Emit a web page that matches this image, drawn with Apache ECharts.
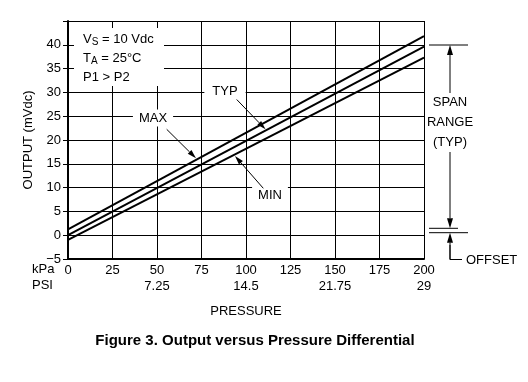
<!DOCTYPE html>
<html><head><meta charset="utf-8">
<script src="https://cdn.jsdelivr.net/npm/echarts@6/dist/echarts.min.js"></script>
<style>html,body{margin:0;padding:0;background:#fff}#c{width:528px;height:382px}</style>
</head><body><div id="c"></div>
<script>
// ---- data ----
const kpaEnds = [0, 200];
const maxOut = [1.2, 41.8];
const typOut = [0, 39.6];
const minOut = [-1.0, 37.3];
const kpaTicks = [0, 25, 50, 75, 100, 125, 150, 175, 200];
const psiTicks = ['', '', '7.25', '', '14.5', '', '21.75', '', '29'];
const yTicks = [-5, 0, 5, 10, 15, 20, 25, 30, 35, 40];

const FN = '"Liberation Sans Narrow", "Liberation Sans", Arial, sans-serif';
const FB = '"Liberation Sans", Arial, sans-serif';
const FS = 13;

function pairs(xs, ys){ return xs.map((x,i)=>[x, ys[i]]); }

function arrow(x1,y1,x2,y2,len,half){
  const dx=x2-x1, dy=y2-y1, L=Math.hypot(dx,dy), ux=dx/L, uy=dy/L;
  const bx=x2-ux*len, by=y2-uy*len;
  return [
    {type:'line', shape:{x1:x1,y1:y1,x2:bx,y2:by}, style:{stroke:'#000', lineWidth:1}, z:100},
    {type:'polygon', shape:{points:[[x2,y2],[bx-uy*half,by+ux*half],[bx+uy*half,by-ux*half]]}, style:{fill:'#000'}, z:100}
  ];
}
function label(txt, x, y, extra){
  return {type:'text', x:x, y:y, z:100, style:Object.assign({text:txt, font:FS+'px '+FN, fill:'#000', align:'center', verticalAlign:'middle', backgroundColor:'#fff', padding:[2,4]}, extra||{})};
}
function txt(t, x, y, align){
  return {type:'text', x:x, y:y, z:100, style:{text:t, font:FS+'px '+FN, fill:'#000', align:align||'left', verticalAlign:'middle'}};
}

const chart = echarts.init(document.getElementById('c'), null, {renderer:'canvas'});
const lineStyle = {color:'#000', width:2};
const mkSeries = (name, ys) => ({name, type:'line', data:pairs(kpaEnds, ys), symbol:'none', lineStyle, silent:true, z:3});

let graphics = [];
// condition box
graphics.push({type:'rect', shape:{x:74, y:28, width:90, height:58}, style:{fill:'#fff'}, z:90});
const rich = {a:{font:FS+'px '+FN, fill:'#000'}, s:{font:'10px '+FN, fill:'#000', padding:[6,0,0,0]}};
graphics.push({type:'text', x:83, y:39, z:100, style:{text:'{a|V}{s|S}{a| = 10 Vdc}', verticalAlign:'middle', rich:rich}});
graphics.push({type:'text', x:83, y:58, z:100, style:{text:'{a|T}{s|A}{a| = 25°C}', verticalAlign:'middle', rich:rich}});
graphics.push(txt('P1 > P2', 83, 77));
// line labels
graphics.push(label('TYP', 225, 91, {padding:[2,8]}));
graphics.push(label('MAX', 153, 118, {padding:[2,6]}));
graphics.push(label('MIN', 270, 195, {padding:[2,6]}));
graphics = graphics.concat(arrow(236.7,99.5,265.5,129.3,9,2.6));
graphics = graphics.concat(arrow(166.7,129.3,196,158.3,9,2.6));
graphics = graphics.concat(arrow(263.3,188.3,235,156,9,2.6));
// span / offset annotation
graphics.push({type:'line', shape:{x1:429,y1:45,x2:468,y2:45}, style:{stroke:'#000',lineWidth:1}});
graphics = graphics.concat(arrow(450,93,450,45,10,3));
graphics.push(txt('SPAN', 450, 102, 'center'));
graphics.push(txt('RANGE', 450, 122, 'center'));
graphics.push(txt('(TYP)', 450, 142, 'center'));
graphics = graphics.concat(arrow(450,152,450,228.3,10,3));
graphics.push({type:'line', shape:{x1:429,y1:228.3,x2:458,y2:228.3}, style:{stroke:'#000',lineWidth:1}});
graphics.push({type:'line', shape:{x1:429,y1:232.7,x2:468,y2:232.7}, style:{stroke:'#000',lineWidth:1}});
graphics = graphics.concat(arrow(450,259.5,450,232.7,10,3));
graphics.push({type:'polyline', shape:{points:[[450,245],[450,259.5],[462,259.5]]}, style:{stroke:'#000',lineWidth:1,fill:null}});
graphics.push(txt('OFFSET', 466, 260));
// unit labels
graphics.push(txt('kPa', 32, 269));
graphics.push(txt('PSI', 32, 285));
// caption
graphics.push({type:'text', x:255, y:341, style:{text:'Figure 3. Output versus Pressure Differential', font:'bold 15px '+FB, fill:'#000', align:'center', verticalAlign:'middle'}});

chart.setOption({
  animation:false,
  backgroundColor:'#fff',
  grid:{left:68, right:104, top:21, bottom:123, containLabel:false},
  xAxis:{
    type:'value', min:0, max:200, interval:25,
    axisLine:{onZero:false, lineStyle:{color:'#000', width:2}},
    axisTick:{show:false},
    splitLine:{show:true, lineStyle:{color:'#000', width:1}},
    axisLabel:{color:'#000', fontFamily:FN, fontSize:FS, lineHeight:16, margin:3,
      formatter:(v)=>{ const i=kpaTicks.indexOf(v); return i<0?'':(psiTicks[i]? v+'\n'+psiTicks[i] : v+'\n '); }},
    name:'PRESSURE', nameLocation:'middle', nameGap:46,
    nameTextStyle:{color:'#000', fontFamily:FN, fontSize:FS}
  },
  yAxis:{
    type:'value', min:-5, max:45, interval:5,
    axisLine:{show:true, onZero:false, lineStyle:{color:'#000', width:2}},
    axisTick:{show:true, length:5, lineStyle:{color:'#000', width:1}},
    splitLine:{show:true, lineStyle:{color:'#000', width:1}},
    axisLabel:{color:'#000', fontFamily:FN, fontSize:FS, margin:7,
      formatter:(v)=> yTicks.indexOf(v)<0 ? '' : (v<0 ? '\u2212'+Math.abs(v) : String(v))},
    name:'OUTPUT (mVdc)', nameLocation:'middle', nameGap:32,
    nameTextStyle:{color:'#000', fontFamily:FN, fontSize:FS}
  },
  series:[mkSeries('MAX', maxOut), mkSeries('TYP', typOut), mkSeries('MIN', minOut)],
  graphic:graphics
});
</script></body></html>
